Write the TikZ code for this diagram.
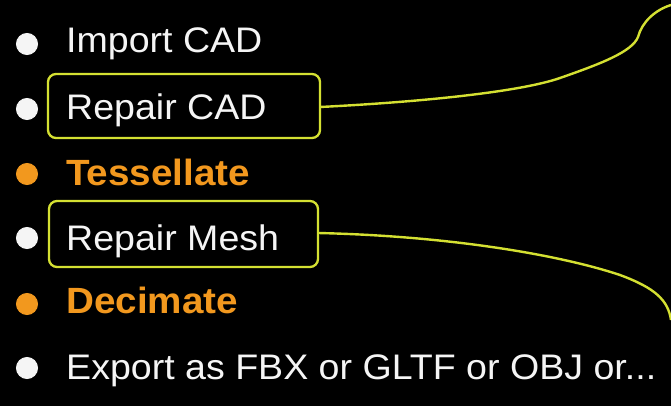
\documentclass[tikz,border=0pt]{standalone}
\usepackage{fontspec}
\setmainfont{Liberation Sans}[FakeStretch=1.058]
\definecolor{bg}{RGB}{0,0,0}
\definecolor{wht}{RGB}{245,245,245}
\definecolor{org}{RGB}{242,152,30}
\definecolor{ylw}{RGB}{212,224,50}
\begin{document}
\begin{tikzpicture}[x=1pt,y=-1pt,
  item/.style={anchor=base west, inner sep=0pt, text=wht, font=\fontsize{35.5}{40}\selectfont},
  hot/.style={anchor=base west, inner sep=0pt, text=org, font=\fontsize{36.5}{40}\selectfont\bfseries},
  dotw/.style={circle, draw=wht, fill=wht, line width=1pt, inner sep=0pt, minimum size=21pt},
  doto/.style={circle, draw=org, fill=org, line width=1pt, inner sep=0pt, minimum size=21pt},
  box/.style={draw=ylw, line width=2.3pt, rounded corners=8pt},
  link/.style={draw=ylw, line width=2.4pt}]
\fill[bg] (0,0) rectangle (671,406);
\useasboundingbox (0,0) rectangle (671,406);
% bullets
\node[dotw] (b1) at (27,44) {};
\node[dotw] (b2) at (27,109) {};
\node[doto] (b3) at (27,174) {};
\node[dotw] (b4) at (27,238) {};
\node[doto] (b5) at (27,304) {};
\node[dotw] (b6) at (27,368) {};
% boxes
\draw[box] (48,74) rectangle (320,138);
\draw[box] (49,201) rectangle (318,267);
\coordinate (r1) at (320,107);
\coordinate (r2) at (318,233);
% texts
\node[item] (t1) at (66,53) {Import CAD};
\node[item] (t2) at (66,120) {Repair CAD};
\node[hot] (t3) at (66,185) {Tessellate};
\node[item] (t4) at (66,250) {Repair Mesh};
\node[hot] (t5) at (66,313) {Decimate};
\node[item] (t6) at (66,379) {Export as FBX or GLTF or OBJ or...};
% connectors
\coordinate (e1) at (671,5);
\coordinate (e2) at (671,320);
\draw[link] (r1) .. controls (420,102) and (520,92) .. (560,78)
  .. controls (600,64) and (632,52) .. (638,37)
  .. controls (642,22) and (655,10) .. (e1);
\draw[link] (r2) .. controls (450,236) and (560,255) .. (620,275)
  .. controls (655,288) and (668,300) .. (e2);
\end{tikzpicture}
\end{document}
